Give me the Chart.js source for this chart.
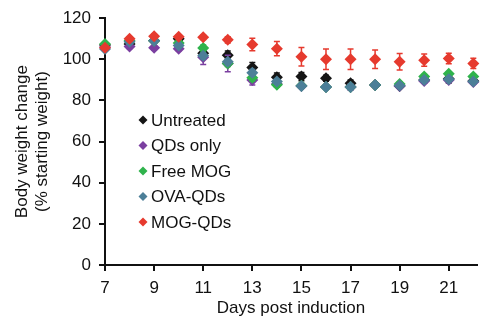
<!DOCTYPE html>
<html>
<head>
<meta charset="utf-8">
<script src="https://cdn.jsdelivr.net/npm/chart.js@4.4.0/dist/chart.umd.min.js"></script>
<style>
  html, body { margin: 0; padding: 0; background: #fff; }
  #wrap { width: 483px; height: 323px; }
</style>
</head>
<body>
<div id="wrap"><canvas id="weightChart" width="483" height="323"></canvas></div>
<script>
// days after induction
const days = [7, 8, 9, 10, 11, 12, 13, 14, 15, 16, 17, 18, 19, 20, 21, 22];
const xTicks = [7, 9, 11, 13, 15, 17, 19, 21];
const yTicks = [0, 20, 40, 60, 80, 100, 120];

const groupNames = ['Untreated', 'QDs only', 'Free MOG', 'OVA-QDs', 'MOG-QDs'];
const groupColors = ['#151515', '#7b3fa0', '#2fb34c', '#4c7f98', '#e63a2e'];

// mean body weight (% of starting weight)
const untreated = [107, 107.5, 109, 110, 103, 102, 96, 91.3, 91.6, 90.8, 88.4, 87.5, 87, 90, 90.5, 89.5];
const qdsOnly   = [106, 106.3, 105.6, 105.2, 101, 98, 90, 88, 87, 86.5, 86.5, 87.5, 87, 89.5, 90, 89];
const freeMog   = [107.5, 109, 109, 108, 105.5, 98, 91, 87.6, 87.2, 86.5, 86.5, 87.5, 88, 91.6, 93, 91.6];
const ovaQds    = [105, 108.5, 109, 106.7, 101.7, 98.8, 93.5, 89.2, 87, 86.5, 86.5, 87.5, 87.3, 90, 90.3, 89.2];
const mogQds    = [105.6, 110, 111.2, 111, 110.7, 109.5, 107.2, 105.2, 101.2, 100, 100, 100, 98.8, 99.6, 100.4, 98];

// standard error of the mean
const untreatedErr = [1, 1, 1, 1, 1.5, 2, 2.5, 2, 2, 1.5, 1.5, 1, 1, 1.5, 2, 1];
const qdsOnlyErr   = [1, 1, 1, 1, 3.5, 4, 2.5, 1.5, 1, 1, 1.5, 1, 1, 1, 1, 1];
const freeMogErr   = [1, 1, 1, 1, 1.5, 1.5, 1.5, 1, 1, 1, 1, 1, 1, 1, 1, 1];
const ovaQdsErr    = [1, 1, 1, 1, 1.5, 1.5, 1.5, 1, 1, 1, 1, 1, 1, 1, 1, 1];
const mogQdsErr    = [1, 1, 1, 1, 1, 1.5, 3, 3.5, 4.5, 5, 5, 4.5, 4, 3, 2.5, 2.5];

const allMeans = [untreated, qdsOnly, freeMog, ovaQds, mogQds];
const allErrs = [untreatedErr, qdsOnlyErr, freeMogErr, ovaQdsErr, mogQdsErr];

const FONT = 'Liberation Sans, Arial, sans-serif';

// error bars go under each group's markers
const errorBars = {
  id: 'errorBars',
  beforeDatasetDraw(chart, args) {
    const ds = chart.data.datasets[args.index];
    const errs = ds.errors;
    const xs = chart.scales.x, ys = chart.scales.y;
    const ctx = chart.ctx;
    ctx.save();
    ctx.strokeStyle = ds.borderColor;
    ctx.lineWidth = 1.5;
    ds.data.forEach((p, i) => {
      const px = xs.getPixelForValue(p.x);
      const top = ys.getPixelForValue(p.y + errs[i]);
      const bot = ys.getPixelForValue(p.y - errs[i]);
      ctx.beginPath();
      ctx.moveTo(px, top); ctx.lineTo(px, bot);
      ctx.moveTo(px - 3, top); ctx.lineTo(px + 3, top);
      ctx.moveTo(px - 3, bot); ctx.lineTo(px + 3, bot);
      ctx.stroke();
    });
    ctx.restore();
  }
};

// legend sits inside the plot
const insideLegend = {
  id: 'insideLegend',
  afterDraw(chart) {
    const ctx = chart.ctx;
    ctx.save();
    ctx.font = '17px ' + FONT;
    ctx.textBaseline = 'middle';
    groupNames.forEach((name, i) => {
      const y = 120 + i * 25.5;
      const x = 143;
      ctx.fillStyle = groupColors[i];
      ctx.beginPath();
      ctx.moveTo(x, y - 4.5); ctx.lineTo(x + 4.5, y); ctx.lineTo(x, y + 4.5); ctx.lineTo(x - 4.5, y);
      ctx.closePath();
      ctx.fill();
      ctx.fillStyle = '#111';
      ctx.fillText(name, 151, y + 1);
    });
    ctx.restore();
  }
};

const datasets = groupNames.map((name, g) => ({
  label: name,
  data: days.map((d, i) => ({ x: d, y: allMeans[g][i] })),
  errors: allErrs[g],
  showLine: false,
  pointStyle: 'rectRot',
  pointRadius: 6,
  pointBorderWidth: 0,
  backgroundColor: groupColors[g],
  borderColor: groupColors[g],
  clip: false,
  order: groupNames.length - g
}));

new Chart(document.getElementById('weightChart'), {
  type: 'scatter',
  data: { datasets: datasets },
  options: {
    responsive: false,
    animation: false,
    layout: { padding: { top: 14, right: 0, bottom: 0, left: 0 } },
    plugins: { legend: { display: false }, tooltip: { enabled: false } },
    scales: {
      x: {
        type: 'linear',
        min: 7,
        max: 22.15,
        afterBuildTicks: s => { s.ticks = xTicks.map(v => ({ value: v })); },
        afterFit: s => { s.height = 58; },
        grid: { drawOnChartArea: false, color: '#111', lineWidth: 2, tickLength: 6 },
        border: { color: '#111', width: 2 },
        ticks: { color: '#111', font: { family: FONT, size: 17 }, padding: 7, maxRotation: 0 },
        title: {
          display: true,
          text: 'Days post induction',
          color: '#111',
          font: { family: FONT, size: 17 },
          padding: { top: 0, bottom: 4 }
        }
      },
      y: {
        min: 0,
        max: 120,
        afterBuildTicks: s => { s.ticks = yTicks.map(v => ({ value: v })); },
        afterFit: s => { s.width = 105; },
        grid: { drawOnChartArea: false, color: '#111', lineWidth: 2, tickLength: 6 },
        border: { color: '#111', width: 2 },
        ticks: { color: '#111', font: { family: FONT, size: 17 }, padding: 8 },
        title: {
          display: true,
          text: ['Body weight change', '(% starting weight)'],
          color: '#111',
          font: { family: FONT, size: 17 },
          padding: { top: 12, bottom: 0 }
        }
      }
    }
  },
  plugins: [errorBars, insideLegend]
});
</script>
</body>
</html>
